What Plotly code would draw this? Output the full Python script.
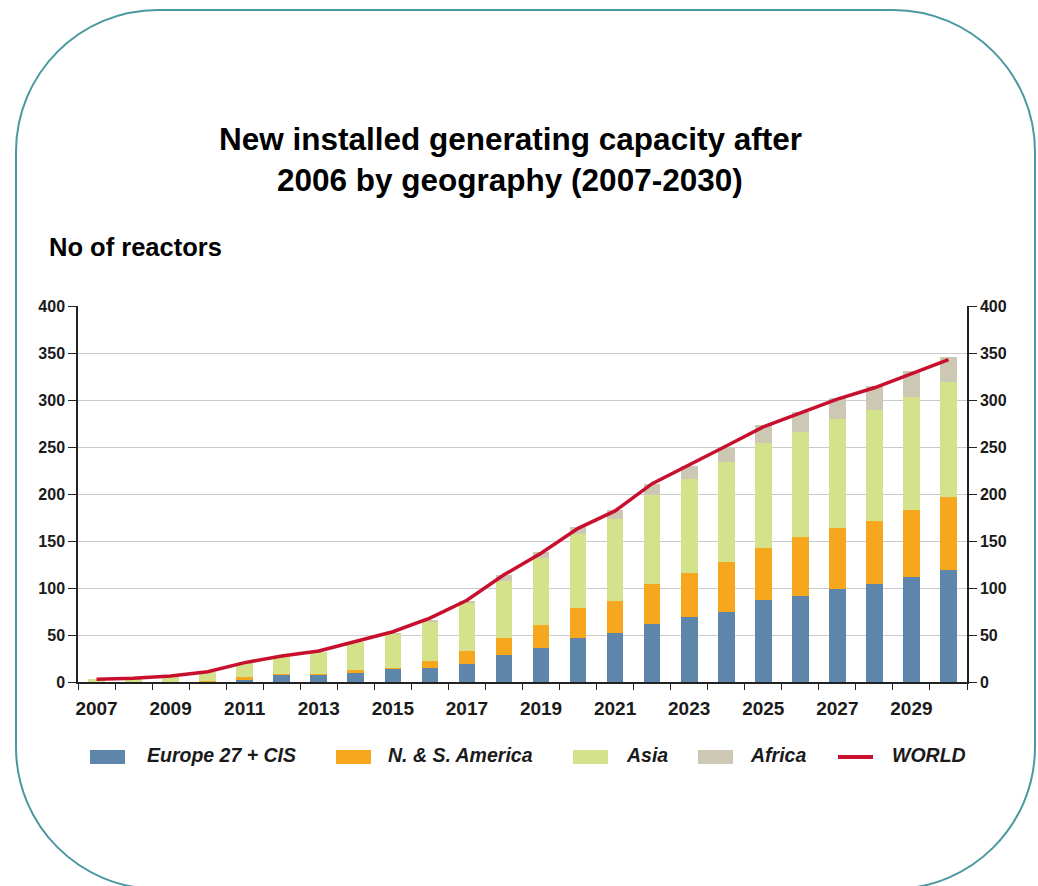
import plotly.graph_objects as go

# ---------------- data ----------------
years = list(range(2007, 2031))
europe = [0, 0, 0, 0, 3, 8, 8, 10, 14, 15, 19.5, 29, 36, 47, 52.5, 62, 69, 74.5, 87, 92, 99, 104.5, 111.5, 119.5]
america = [0, 0, 0, 1, 1.8, 0.3, 0.3, 2.5, 1, 7, 14, 18, 25, 31.5, 34, 42, 46.5, 53, 56, 62, 65, 67, 71.5, 77]
asia = [2.8, 3, 5.7, 9.6, 15.3, 19.5, 23.7, 30.2, 36.2, 42.6, 51, 60.3, 71.3, 79.4, 86.5, 94.6, 100, 107, 111, 112, 116, 118, 120, 123]
africa = [0, 0, 0, 0, 0, 0, 0, 0, 0.5, 1.5, 1.8, 6.5, 6.5, 6.7, 9.5, 12.5, 14, 15.5, 19, 21, 22.5, 25, 27.5, 26]
world = [3, 4, 6.4, 11, 20.6, 27.7, 33, 43.6, 53.5, 68, 87, 114, 137, 163.5, 182, 211, 230.5, 251, 271.5, 286, 301, 313, 328, 343]

series_names = ["Europe 27 + CIS", "N. & S. America", "Asia", "Africa", "WORLD"]
colors = ["#5E86AB", "#F6A71E", "#D4E28B", "#CCC8B4", "#C8102E"]

title_lines = ["New installed generating capacity after", "2006 by geography (2007-2030)"]
y_title = "No of reactors"
x_tick_labels = [str(y) for y in years[::2]]
y_ticks = list(range(0, 401, 50))

# ---------------- layout constants ----------------
W, H = 1038, 886
ML, MR, MT, MB = 78, 71, 306, 204
PW, PH = W - ML - MR, H - MT - MB


def px(x):
    return (x - ML) / PW


def py(y):
    return (H - MB - y) / PH


FONT = "Liberation Sans, Arial, sans-serif"
TXT = "#1a1a1a"

fig = go.Figure()
for vals, name, col in zip([europe, america, asia, africa], series_names[:4], colors[:4]):
    fig.add_trace(go.Bar(x=years, y=vals, name=name, width=0.45,
                         marker=dict(color=col, line=dict(width=0)), showlegend=False))
fig.add_trace(go.Scatter(x=years, y=world, name=series_names[4], mode="lines",
                         line=dict(color=colors[4], width=3.5), yaxis="y2", showlegend=False))

# ---------------- rounded frame ----------------
x0, y0, x1, y1, r = 16, 10, 1035, 889, 142
k = 0.5523 * r


def P(x, y):
    return f"{px(x):.5f},{py(y):.5f}"


path = (f"M {P(x0 + r, y0)} L {P(x1 - r, y0)} "
        f"C {P(x1 - r + k, y0)} {P(x1, y0 + r - k)} {P(x1, y0 + r)} "
        f"L {P(x1, y1 - r)} "
        f"C {P(x1, y1 - r + k)} {P(x1 - r + k, y1)} {P(x1 - r, y1)} "
        f"L {P(x0 + r, y1)} "
        f"C {P(x0 + r - k, y1)} {P(x0, y1 - r + k)} {P(x0, y1 - r)} "
        f"L {P(x0, y0 + r)} "
        f"C {P(x0, y0 + r - k)} {P(x0 + r - k, y0)} {P(x0 + r, y0)} Z")
shapes = [dict(type="path", xref="paper", yref="paper", path=path,
               line=dict(color="#4A98A0", width=2), layer="below")]

# ---------------- manual legend ----------------
legend_items = [
    (90, 145, "bar"), (336, 386, "bar"), (573, 624, "bar"), (698, 748, "bar"), (838, 890, "line")
]
LEG_Y = 757
annotations = []
for (sx, tx, kind), name, col in zip(legend_items, series_names, colors):
    if kind == "bar":
        shapes.append(dict(type="rect", xref="paper", yref="paper",
                           x0=px(sx), x1=px(sx + 35), y0=py(LEG_Y - 7), y1=py(LEG_Y + 7),
                           fillcolor=col, line=dict(width=0)))
    else:
        shapes.append(dict(type="line", xref="paper", yref="paper",
                           x0=px(sx), x1=px(sx + 35), y0=py(LEG_Y), y1=py(LEG_Y),
                           line=dict(color=col, width=4)))
    annotations.append(dict(xref="paper", yref="paper", x=px(tx), y=py(LEG_Y - 2),
                            xanchor="left", yanchor="middle", showarrow=False,
                            text=f"<b><i>{name}</i></b>",
                            font=dict(family=FONT, size=19.5, color=TXT)))

# titles
for line, ycen in zip(title_lines, [139, 180]):
    annotations.append(dict(xref="paper", yref="paper", x=px(510), y=py(ycen),
                            xanchor="center", yanchor="middle", showarrow=False,
                            text=f"<b>{line}</b>", font=dict(family=FONT, size=31.5, color="#000")))
annotations.append(dict(xref="paper", yref="paper", x=px(47), y=py(247),
                        xanchor="left", yanchor="middle", showarrow=False,
                        text=f"<b>{y_title}</b>", font=dict(family=FONT, size=25.5, color="#000")))

axis_common = dict(range=[0, 400], tickmode="array", tickvals=y_ticks,
                   ticks="outside", ticklen=8, tickwidth=1.3, tickcolor="#222",
                   showline=True, linecolor="#222", linewidth=1.5, zeroline=False,
                   tickfont=dict(family=FONT, size=16, color=TXT, weight="bold"))

fig.update_layout(
    width=W, height=H,
    margin=dict(l=ML, r=MR, t=MT, b=MB, pad=0),
    paper_bgcolor="white", plot_bgcolor="white",
    barmode="stack",
    showlegend=False,
    shapes=shapes, annotations=annotations,
    xaxis=dict(range=[2006.5, 2030.5], tickmode="array", tickvals=years[::2], ticktext=x_tick_labels,
               ticks="", showline=True, linecolor="#222", linewidth=1.5, showgrid=False, zeroline=False,
               ticklabelstandoff=8,
               tickfont=dict(family=FONT, size=19, color=TXT, weight="bold"),
               minor=dict(tickmode="array", tickvals=[y - 0.5 for y in years] + [2030.5],
                          ticks="outside", ticklen=6, tickwidth=1.3, tickcolor="#222", showgrid=False)),
    yaxis=dict(showgrid=True, gridcolor="#CACACA", gridwidth=1, side="left", **axis_common),
    yaxis2=dict(overlaying="y", side="right", showgrid=False, **axis_common),
)

fig.write_html("out.html")
